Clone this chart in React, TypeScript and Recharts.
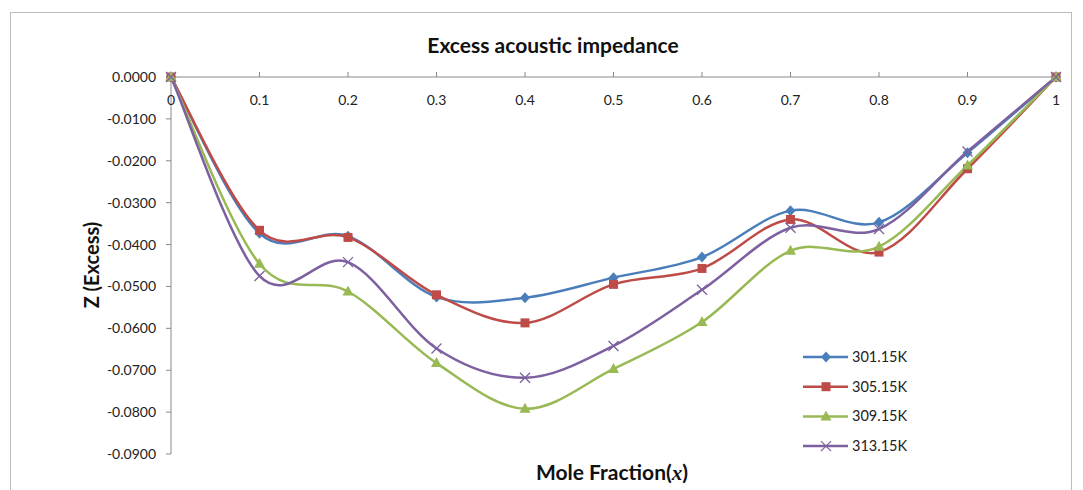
import React from "react";
import { Line, LineChart, XAxis, YAxis } from "recharts";

const xValues = [0, 0.1, 0.2, 0.3, 0.4, 0.5, 0.6, 0.7, 0.8, 0.9, 1];
const k301 = [0, -0.0373, -0.038, -0.0525, -0.0527, -0.0479, -0.043, -0.0319, -0.0347, -0.0181, 0];
const k305 = [0, -0.0366, -0.0383, -0.052, -0.0587, -0.0495, -0.0457, -0.034, -0.0418, -0.0219, 0];
const k309 = [0, -0.0446, -0.0512, -0.0683, -0.0792, -0.0697, -0.0585, -0.0415, -0.0405, -0.0211, 0];
const k313 = [0, -0.0475, -0.0442, -0.0648, -0.0718, -0.0642, -0.0508, -0.036, -0.0363, -0.0178, 0];
const yTicks = [0, -0.01, -0.02, -0.03, -0.04, -0.05, -0.06, -0.07, -0.08, -0.09];
const xTicks = [0, 0.1, 0.2, 0.3, 0.4, 0.5, 0.6, 0.7, 0.8, 0.9, 1];

const data = xValues.map((x, i) => ({ x, k301: k301[i], k305: k305[i], k309: k309[i], k313: k313[i] }));

const FONT = "Lato, 'Open Sans', sans-serif";
const PLOT_TOP = 77;

// Excel-like smoothed line (Catmull-Rom through the points)
const excelCurve = (context: any) => {
  let pts: number[][] = [];
  return {
    areaStart() {},
    areaEnd() {},
    lineStart() {
      pts = [];
    },
    lineEnd() {
      if (!pts.length) return;
      context.moveTo(pts[0][0], pts[0][1]);
      for (let i = 0; i < pts.length - 1; i++) {
        const p0 = pts[i - 1] || pts[i];
        const p1 = pts[i];
        const p2 = pts[i + 1];
        const p3 = pts[i + 2] || p2;
        context.bezierCurveTo(
          p1[0] + (p2[0] - p0[0]) / 6,
          p1[1] + (p2[1] - p0[1]) / 6,
          p2[0] - (p3[0] - p1[0]) / 6,
          p2[1] - (p3[1] - p1[1]) / 6,
          p2[0],
          p2[1]
        );
      }
    },
    point(x: number, y: number) {
      pts.push([+x, +y]);
    },
  };
};

const series = [
  { key: "k301", name: "301.15K", color: "#4A7EBB", shape: "diamond" },
  { key: "k305", name: "305.15K", color: "#BE4B48", shape: "square" },
  { key: "k309", name: "309.15K", color: "#98B954", shape: "triangle" },
  { key: "k313", name: "313.15K", color: "#7D60A0", shape: "cross" },
];

function Marker({ cx, cy, shape, color }: { cx: number; cy: number; shape: string; color: string }) {
  if (cx == null || cy == null) return null;
  if (shape === "diamond")
    return <path d={`M${cx},${cy - 5.5}L${cx + 5},${cy}L${cx},${cy + 5.5}L${cx - 5},${cy}Z`} fill={color} />;
  if (shape === "square") return <rect x={cx - 4.5} y={cy - 4.5} width={9} height={9} fill={color} />;
  if (shape === "triangle")
    return <path d={`M${cx},${cy - 6}L${cx + 5.5},${cy + 4}L${cx - 5.5},${cy + 4}Z`} fill={color} />;
  return (
    <path
      d={`M${cx - 5},${cy - 5}L${cx + 5},${cy + 5}M${cx - 5},${cy + 5}L${cx + 5},${cy - 5}`}
      stroke={color}
      strokeWidth={1.3}
      fill="none"
    />
  );
}

const XTick = ({ x, payload }: any) => (
  <text x={x} y={PLOT_TOP + 28} textAnchor="middle" fontSize={14} fill="#222" fontFamily={FONT}>
    {payload.value}
  </text>
);

const YTick = ({ x, y, payload }: any) => (
  <text x={x - 8} y={y + 5} textAnchor="end" fontSize={14} fill="#222" fontFamily={FONT}>
    {Number(payload.value) === 0 ? "0.0000" : Number(payload.value).toFixed(4)}
  </text>
);

const LegendBox = () => (
  <svg width={130} height={115} style={{ position: "absolute", left: 801, top: 345 }}>
    {series.map((s, i) => {
      const cy = 12 + i * 29.7;
      return (
        <g key={s.key}>
          <line x1={2} x2={47} y1={cy} y2={cy} stroke={s.color} strokeWidth={2.5} />
          <Marker cx={25} cy={cy} shape={s.shape} color={s.color} />
          <text x={51} y={cy + 5} fontSize={14.5} fill="#222" fontFamily={FONT}>
            {s.name}
          </text>
        </g>
      );
    })}
  </svg>
);

export default function App() {
  return (
    <div style={{ position: "absolute", left: 0, top: 0, width: 1083, height: 490, background: "#fff", overflow: "hidden" }}>
      <div
        style={{
          position: "absolute",
          left: 10,
          top: 12,
          width: 1062,
          height: 490,
          border: "1px solid #bcbcbc",
          boxSizing: "border-box",
        }}
      />
      <LineChart width={1083} height={490} data={data} margin={{ top: 67, right: 27, left: 81, bottom: 36 }}>
        <XAxis
          dataKey="x"
          type="number"
          domain={[0, 1]}
          ticks={xTicks}
          orientation="top"
          height={10}
          tick={<XTick />}
          tickSize={5}
          axisLine={{ stroke: "#888" }}
          tickLine={{ stroke: "#888" }}
        />
        <YAxis
          type="number"
          domain={[-0.09, 0]}
          ticks={yTicks}
          width={90}
          tick={<YTick />}
          tickSize={5}
          axisLine={{ stroke: "#888" }}
          tickLine={{ stroke: "#888" }}
        />
        {series.map((s) => (
          <Line
            key={s.key}
            dataKey={s.key}
            name={s.name}
            type={excelCurve as any}
            stroke={s.color}
            strokeWidth={2.5}
            isAnimationActive={false}
            dot={(p: any) => <Marker key={`${s.key}-${p.index}`} cx={p.cx} cy={p.cy} shape={s.shape} color={s.color} />}
            activeDot={false}
          />
        ))}
        <text x={553} y={53} textAnchor="middle" fontSize={21} fontWeight="bold" fill="#111" fontFamily={FONT}>
          Excess acoustic impedance
        </text>
        <text
          x={99}
          y={265}
          textAnchor="middle"
          fontSize={20}
          fontWeight="bold"
          fill="#111"
          fontFamily={FONT}
          transform="rotate(-90 99 265)"
        >
          Z (Excess)
        </text>
        <text x={612} y={480} textAnchor="middle" fontSize={21} fontWeight="bold" fill="#111" fontFamily={FONT}>
          Mole Fraction(
          <tspan fontFamily="'Liberation Serif', serif" fontStyle="italic">
            x
          </tspan>
          )
        </text>
      </LineChart>
      <LegendBox />
    </div>
  );
}
